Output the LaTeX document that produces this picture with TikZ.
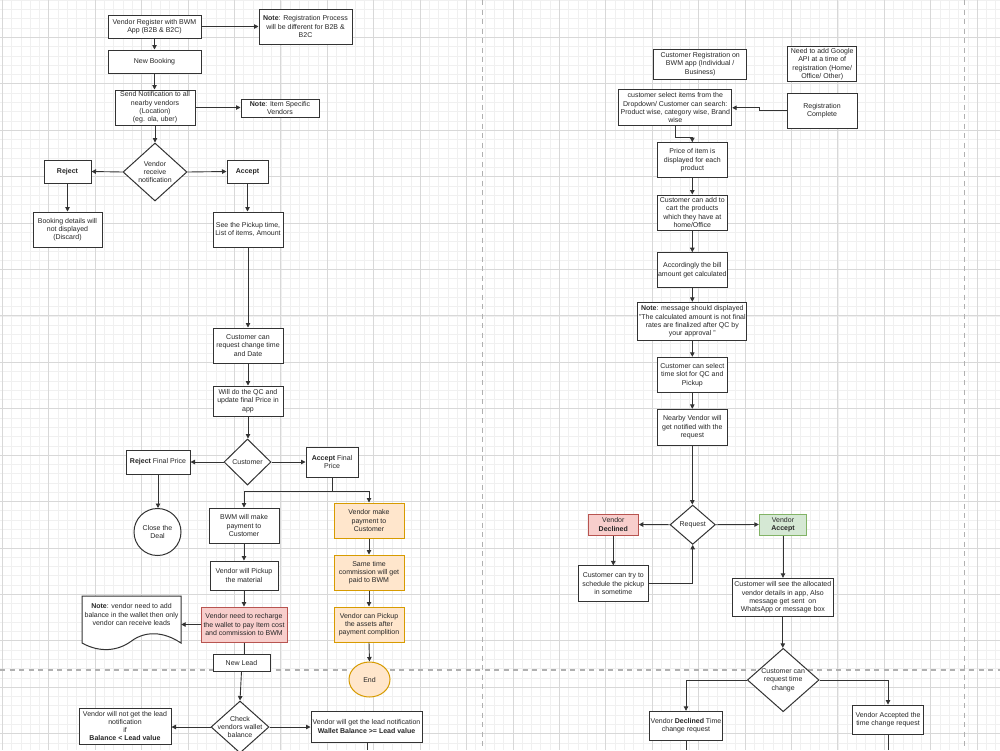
\documentclass[tikz,border=0pt]{standalone}
\usepackage{fontspec}
\setmainfont{Liberation Sans}
\usetikzlibrary{shapes.geometric,arrows.meta}
\definecolor{gmin}{HTML}{F0F0F0}
\definecolor{gmaj}{HTML}{D8D8D8}
\definecolor{dashc}{HTML}{B0B0B0}
\definecolor{edge}{HTML}{333333}
\definecolor{txt}{HTML}{262626}
\definecolor{redf}{HTML}{F8CECC}\definecolor{redd}{HTML}{B85450}
\definecolor{orf}{HTML}{FFE6CC}\definecolor{ord}{HTML}{D79B00}
\definecolor{grf}{HTML}{D5E8D4}\definecolor{grd}{HTML}{82B366}
\begin{document}
\begin{tikzpicture}[x=1pt,y=-1pt,
 every node/.style={font=\fontsize{7pt}{8.3pt}\selectfont, text=txt, align=center, inner sep=0pt},
 box/.style={draw=edge, line width=1pt, fill=white, rectangle},
 wh/.style 2 args={minimum width=#1, minimum height=#2},
 dia/.style={draw=edge, line width=1pt, fill=white, diamond, inner sep=0pt},
 redbox/.style={box, fill=redf, draw=redd},
 orbox/.style={box, fill=orf, draw=ord},
 grbox/.style={box, fill=grf, draw=grd},
 conn/.style={draw=edge, line width=0.9pt, -{Triangle[length=4.5pt,width=4.5pt]}},
 plainline/.style={draw=edge, line width=0.9pt},
 dashline/.style={draw=dashc, line width=1.1pt, dash pattern=on 5pt off 4.5pt},
 ]
\useasboundingbox (0,0) rectangle (1000,750);
\fill[white] (0,0) rectangle (1000,750);
% grid
\begin{scope}
\clip (0,0) rectangle (1000,750);
\foreach \i in {0,...,107}{\pgfmathsetmacro{\xx}{2.3+9.284*\i}\draw[gmin,line width=0.6pt] (\xx,0) -- (\xx,750);}
\foreach \i in {0,...,81}{\pgfmathsetmacro{\yy}{0.164+9.284*\i}\draw[gmin,line width=0.6pt] (0,\yy) -- (1000,\yy);}
\foreach \i in {0,...,21}{\pgfmathsetmacro{\xx}{2.3+46.42*\i}\draw[gmaj,line width=0.8pt] (\xx,0) -- (\xx,750);}
\foreach \i in {1,...,16}{\pgfmathsetmacro{\yy}{-9.12+46.42*\i}\draw[gmaj,line width=0.8pt] (0,\yy) -- (1000,\yy);}
\end{scope}
% dashed separators
\draw[dashline] (482.7,0) -- (482.7,750);
\draw[dashline] (964.3,0) -- (964.3,750);
\draw[dashline] (0,670) -- (1000,670);

% ---------- left column ----------
\node[box, wh={93}{23}] (reg) at (154.5,26.5) {Vendor Register with BWM\\App (B2B \& B2C)};
\node[box, wh={93}{35}] (note1) at (305.5,26.5) {\textbf{Note}: Registration Process\\will be different for B2B \&\\B2C};
\node[box, wh={93}{23}] (newb) at (154.5,61.5) {New Booking};
\node[box, wh={80}{35}] (send) at (155,107.5) {Send Notification to all\\nearby vendors\\(Location)\\(eg. ola, uber)};
\node[box, wh={78}{18}] (note2) at (280,108) {\textbf{Note}: Item Specific\\Vendors};
\node[dia, wh={64}{58}] (d1) at (155,172) {};
\node (d1t) at (d1.center) {Vendor\\receive\\notification};
\node[box, wh={47}{23}] (reject) at (67.5,171.5) {\textbf{Reject}};
\node[box, wh={41}{23}] (accept) at (247.5,171.5) {\textbf{Accept}};
\node[box, wh={69}{35}] (discard) at (67.5,229.5) {Booking details will\\not displayed\\(Discard)};
\node[box, wh={70}{35}] (seepick) at (248,229.5) {See the Pickup time,\\List of items, Amount};
\node[box, wh={70}{35}] (custreq) at (248,345.5) {Customer can\\request change time\\and Date};
\node[box, wh={70}{30}] (qc) at (248,401) {Will do the QC and\\update final Price in\\app};
\node[dia, wh={47}{46}] (d2) at (247.5,462) {};
\node (d2t) at (d2.center) {Customer};
\node[box, wh={64}{24}] (rejfp) at (158,462) {\textbf{Reject} Final Price};
\node[box, wh={52}{30}] (accfp) at (332,462) {\textbf{Accept} Final\\Price};
\node[draw=edge, fill=white, line width=1pt, circle, minimum size=47] (close) at (157.5,532) {Close the\\Deal};
\coordinate (split) at (332,491);
\node[box, wh={70}{35}] (bwm) at (244,525.5) {BWM will make\\payment to\\Customer};
\node[box, wh={68}{29}] (vpick) at (244,575.5) {Vendor will Pickup\\the material};
\node[redbox, wh={86}{35}] (recharge) at (244,624.5) {Vendor need to recharge\\the wallet to pay Item cost\\and commission to BWM};
\node[wh={99}{47}] (notew) at (131.5,619.5) {};
\draw[draw=edge, fill=white, line width=1pt] (82,596) -- (181,596) -- (181,643)
  .. controls (163,631) and (145,631) .. (131.5,641)
  .. controls (118,651) and (100,653) .. (82,643) -- cycle;
\node (notewt) at (131.5,614.5) {\textbf{Note}: vendor need to add\\balance in the wallet then only\\vendor can receive leads};
\node[box, wh={57}{17}] (newlead) at (241.5,662.5) {New Lead};
\node[dia, wh={58}{52}] (d3) at (240,727) {};
\node (d3t) at (d3.center) {Check\\vendors wallet\\balance};
\node[box, wh={92}{36}] (notget) at (125,726) {Vendor will not get the lead\\notification\\if\\\textbf{Balance < Lead value}};
\node[box, wh={111}{31}] (willget) at (366.5,726.5) {Vendor will get the lead notification\\\textbf{Wallet Balance >= Lead value}};
\node[orbox, wh={70}{35}] (vmp) at (369,520.5) {Vendor make\\payment to\\Customer};
\node[orbox, wh={70}{35}] (same) at (369,572.5) {Same time\\commission will get\\paid to BWM};
\node[orbox, wh={70}{35}] (vcan) at (369,624.5) {Vendor can Pickup\\the assets after\\payment complition};
\node[draw=ord, fill=orf, line width=1pt, ellipse, wh={41}{35}] (end) at (369.5,679.5) {End};
\coordinate (wgout) at (367,750);

% left connectors
\draw[conn] (reg.east) -- (note1.west);
\draw[conn] (reg.south) -- (newb.north);
\draw[conn] (newb.south) -- (newb.south |- send.north);
\draw[conn] (send.east) -- (send.east -| note2.west);
\draw[conn] (send.south) -- (d1.north);
\draw[conn] (d1.west) -- (reject.east);
\draw[conn] (d1.east) -- (accept.west);
\draw[conn] (reject.south) -- (discard.north);
\draw[conn] (accept.south) -- (accept.south |- seepick.north);
\draw[conn] (seepick.south) -- (custreq.north);
\draw[conn] (custreq.south) -- (qc.north);
\draw[conn] (qc.south) -- (qc.south |- d2.north);
\draw[conn] (d2.west) -- (rejfp.east);
\draw[conn] (d2.east) -- (accfp.west);
\draw[conn] (rejfp.south) -- (rejfp.south |- close.north);
\draw[plainline] (accfp.south) -- (split);
\draw[conn] (split) -| (bwm.north);
\draw[conn] (split) -| (vmp.north);
\draw[conn] (bwm.south) -- (vpick.north);
\draw[conn] (vpick.south) -- (recharge.north);
\draw[conn] (recharge.west) -- (recharge.west -| notew.east);
\draw[plainline] (recharge.south) -- (recharge.south |- newlead.north);
\draw[conn] (newlead.south) -- (d3.north);
\draw[conn] (d3.west) -- (d3.west -| notget.east);
\draw[conn] (d3.east) -- (d3.east -| willget.west);
\draw[plainline] (willget.south -| wgout) -- (wgout);
\draw[conn] (vmp.south) -- (same.north);
\draw[conn] (same.south) -- (vcan.north);
\draw[conn] (vcan.south) -- (end.north);

% ---------- right column ----------
\node[box, wh={93}{30}] (creg) at (700.2,64) {Customer Registration on\\BWM app (Individual /\\Business)};
\node[box, wh={69}{35}] (google) at (822.2,64.2) {Need to add Google\\API at a time of\\registration (Home/\\Office/ Other)};
\node[box, wh={112.7}{35.7}] (csel) at (675.3,107.8) {customer select items from the\\Dropdown/ Customer can search:\\Product wise, category wise, Brand\\wise};
\node[box, wh={70}{35}] (rcomp) at (822,110.8) {Registration\\Complete};
\node[box, wh={70}{35}] (price) at (692.3,160.2) {Price of item is\\displayed for each\\product};
\node[box, wh={70}{35}] (cart) at (692.3,212.5) {Customer can add to\\cart the products\\which they have at\\home/Office};
\node[box, wh={70}{35}] (bill) at (692.3,270.2) {Accordingly the bill\\amount get calculated};
\node[box, wh={108.7}{38.4}] (note3) at (692.3,321.5) {\textbf{Note}: message should displayed\\"The calculated amount is not final\\rates are finalized after QC by\\your approval "};
\node[box, wh={70}{35.4}] (slot) at (692.3,375) {Customer can select\\time slot for QC and\\Pickup};
\node[box, wh={70}{35.7}] (nearby) at (692.3,427.2) {Nearby Vendor will\\get notified with the\\request};
\node[dia, wh={45.3}{39.3}] (req) at (692.7,524.7) {};
\node (reqt) at (req.center) {Request};
\node[redbox, wh={50}{21}] (vdecl) at (613.3,524.5) {Vendor\\\textbf{Declined}};
\node[grbox, wh={47.4}{21}] (vacc) at (783,524.5) {Vendor\\\textbf{Accept}};
\node[box, wh={70}{35.7}] (trysched) at (613.3,583.8) {Customer can try to\\schedule the pickup\\in sometime};
\node[box, wh={101}{38.4}] (seeall) at (782.8,597.5) {Customer will see the allocated\\vendor details in app, Also\\message get sent\ \ on\\WhatsApp or message box};
\node[dia, wh={71.7}{63.4}] (tc) at (783.2,680) {};
\node (tct) at (tc.center) {Customer can\\request time\\change};
\node[box, wh={73.4}{29.4}] (declt) at (686,726) {Vendor \textbf{Declined} Time\\change request};
\node[box, wh={70.6}{29.3}] (acct) at (888,719.7) {Vendor Accepted the\\time change request};
\coordinate (dtout) at (686,750);
\coordinate (atout) at (888,750);

% right connectors
\draw[conn] (rcomp.west) -- ++(-27,0) |- (csel.east);
\draw[conn] (csel.south) -- ++(0,11) -| (price.north);
\draw[conn] (price.south) -- (cart.north);
\draw[conn] (cart.south) -- (bill.north);
\draw[conn] (bill.south) -- (note3.north);
\draw[conn] (note3.south) -- (slot.north);
\draw[conn] (slot.south) -- (nearby.north);
\draw[conn] (nearby.south) -- (nearby.south |- req.north);
\draw[conn] (req.west) -- (vdecl.east);
\draw[conn] (req.east) -- (vacc.west);
\draw[conn] (vdecl.south) -- (trysched.north);
\draw[conn] (trysched.east) -| (req.south);
\draw[conn] (vacc.south) -- (vacc.south |- seeall.north);
\draw[conn] (seeall.south) -- (seeall.south |- tc.north);
\draw[conn] (tc.west) -| (declt.north);
\draw[conn] (tc.east) -| (acct.north);
\draw[plainline] (declt.south) -- (dtout);
\draw[plainline] (acct.south) -- (atout);
\end{tikzpicture}
\end{document}
